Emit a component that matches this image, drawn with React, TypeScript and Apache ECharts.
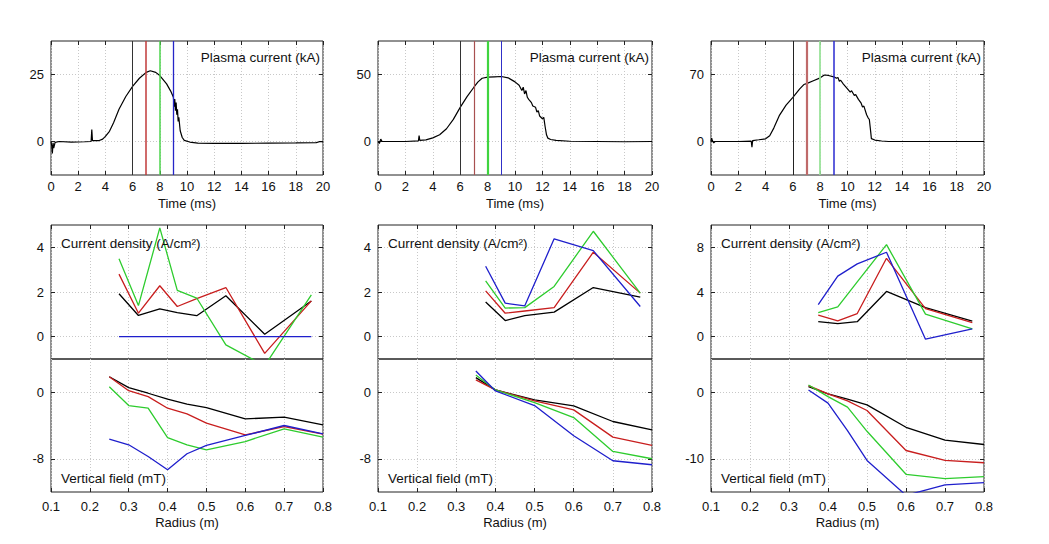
import React, { useEffect, useRef } from 'react';
import * as echarts from 'echarts';

const FONT = '"Liberation Sans", Arial, Helvetica, sans-serif';

// ---- top row: plasma current traces [time (ms), current (kA)] ----
const IP1: number[][] = [
  [0, 0], [0.05, -1.5], [0.1, -4.5], [0.15, -0.5], [0.2, -2.5], [0.3, -0.3], [0.6, 0], [1.5, -0.2], [2.5, -0.1],
  [2.95, 0], [3, 4.5], [3.05, 0.3], [3.5, 0.3], [3.8, 0.9], [4, 1.9], [4.3, 3.8], [4.6, 7], [5, 12], [5.5, 16.8],
  [6, 20.6], [6.5, 23.6], [7, 25.8], [7.3, 26.4], [7.7, 25.8], [8, 24.6], [8.5, 21.5], [8.8, 18.8], [9, 16.5],
  [9.05, 13], [9.1, 15.8], [9.15, 11.5], [9.2, 14.5], [9.25, 10], [9.3, 12], [9.35, 7.5], [9.4, 9], [9.5, 4],
  [9.65, 1.5], [9.8, 0.4], [10.2, -0.2], [10.8, -0.6], [12, -0.7], [14, -0.7], [16, -0.6], [18, -0.5],
  [19.5, -0.4], [19.8, 0], [20, -0.2],
];
const IP2: number[][] = [
  [0, 0], [0.1, -1.5], [0.2, 1.8], [0.3, 0], [1, 0], [2, 0], [2.95, 0.5], [3, 4.5], [3.05, 0.8], [3.5, 1.2],
  [4, 2.7], [4.5, 5], [5, 9.5], [5.5, 16.5], [6, 25.5], [6.5, 33.5], [7, 40.5], [7.3, 44.5], [7.6, 47.2], [8, 48],
  [8.5, 48.3], [9, 48.5], [9.5, 47.5], [10, 44.5], [10.3, 42], [10.5, 38], [10.6, 40.5], [10.7, 35.5], [10.8, 38],
  [10.9, 33], [11, 31.5], [11.2, 29], [11.3, 26.5], [11.5, 25.5], [11.6, 22], [11.7, 23], [11.8, 19], [12, 17],
  [12.1, 18], [12.2, 11], [12.3, 5], [12.4, 2.5], [12.6, 1.5], [13, 0.8], [14, 0.2], [16, 0], [18, -0.2], [20, 0],
];
const IP3: number[][] = [
  [0, 0], [0.05, 3.5], [0.1, 1], [0.2, -1.5], [0.3, 0], [1, 0], [2, 0], [2.95, 0.3], [3, -6], [3.05, 1],
  [3.5, 1.8], [4, 2.8], [4.3, 6], [4.6, 14], [5, 27], [5.5, 38], [6, 46], [6.5, 55], [6.8, 59.5], [7, 60.5],
  [7.5, 63.5], [8, 66.5], [8.3, 69.5], [8.6, 69], [9, 67.5], [9.2, 66], [9.3, 67], [9.4, 63], [9.5, 64], [9.7, 60],
  [10, 55], [10.2, 51.5], [10.3, 53], [10.5, 48], [10.6, 49], [10.8, 44], [11, 40], [11.1, 36], [11.2, 37],
  [11.4, 28], [11.5, 25], [11.6, 23], [11.7, 10], [11.75, 3], [12, 1.5], [12.5, 0.5], [13, 0], [16, 0], [20, 0],
];
const TIME_MARKERS = [6, 7, 8, 9];

// ---- current density (A/cm^2) vs radius (m) ----
const RAD_J1 = [0.275, 0.325, 0.38, 0.425, 0.475, 0.55, 0.65, 0.77];
const J1_BLACK = [1.92, 0.95, 1.24, 1.08, 0.94, 1.83, 0.11, 1.6];
const J1_RED = [2.8, 1.05, 2.28, 1.35, 1.7, 2.2, -0.75, 1.6];
const J1_GREEN = [3.49, 1.39, 4.87, 2.07, 1.73, -0.37, -1.3, 1.87];
const J1_BLUE = [0, 0, 0, 0, 0, 0, 0, 0];

const RAD_J2 = [0.375, 0.425, 0.475, 0.55, 0.65, 0.77];
const J2_BLACK = [1.55, 0.72, 0.94, 1.1, 2.2, 1.77];
const J2_RED = [2.05, 1.05, 1.15, 1.3, 3.78, 1.95];
const J2_GREEN = [2.5, 1.28, 1.3, 2.25, 4.72, 1.95];
const J2_BLUE = [3.15, 1.5, 1.38, 4.38, 3.85, 1.35];

const RAD_J3 = [0.375, 0.425, 0.475, 0.55, 0.65, 0.77];
const J3_BLACK = [1.34, 1.16, 1.34, 4.05, 2.6, 1.4];
const J3_RED = [1.93, 1.42, 2.07, 7.02, 2.52, 1.25];
const J3_GREEN = [2.16, 2.67, 4.9, 8.24, 2.02, 0.69];
const J3_BLUE = [2.87, 5.42, 6.52, 7.56, -0.23, 0.69];

// ---- vertical field (mT) vs radius (m) ----
const RAD_B1 = [0.25, 0.3, 0.35, 0.4, 0.45, 0.5, 0.6, 0.7, 0.8];
const B1_BLACK = [1.87, 0.55, -0.12, -0.84, -1.44, -1.85, -3.2, -3.0, -3.92];
const B1_RED = [1.87, 0.19, -0.53, -1.92, -2.6, -3.72, -5.12, -4.13, -5.04];
const B1_GREEN = [0.67, -1.6, -1.92, -5.45, -6.32, -6.93, -5.93, -4.4, -5.4];
const B1_BLUE = [-5.64, -6.32, -7.73, -9.33, -7.4, -6.4, -5.2, -4.0, -5.0];

const RAD_B2 = [0.35, 0.4, 0.5, 0.6, 0.7, 0.8];
const B2_BLACK = [1.76, 0.28, -0.92, -1.64, -3.52, -4.52];
const B2_RED = [1.48, 0.28, -1.04, -2.12, -5.4, -6.4];
const B2_GREEN = [2.08, 0.28, -1.24, -3.04, -7.12, -8.0];
const B2_BLUE = [2.56, 0.16, -1.6, -5.24, -8.24, -8.72];

const RAD_B3 = [0.35, 0.4, 0.45, 0.5, 0.6, 0.7, 0.8];
const B3_BLACK = [0.85, -0.25, -1.04, -1.89, -5.27, -7.21, -7.86];
const B3_RED = [1.0, -0.25, -1.29, -2.74, -8.76, -10.25, -10.6];
const B3_GREEN = [1.09, -0.65, -2.24, -5.87, -12.34, -12.99, -12.69];
const B3_BLUE = [0.35, -1.64, -5.77, -10.25, -15.5, -13.93, -13.58];

// axis ranges & tick labels
const IP_RANGES = [[-12.5, 37.5], [-25, 75], [-35, 105]];
const IP_TICKS = [[0, 25], [0, 50], [0, 70]];
const J_RANGES = [[-1, 5], [-1, 5], [-2, 10]];
const J_TICKS = [[0, 2, 4], [0, 2, 4], [0, 4, 8]];
const B_RANGES = [[-12, 4], [-12, 4], [-15, 5]];
const B_TICKS = [[-8, 0], [-8, 0], [-10, 0]];

const COLORS = ['#000000', '#c81e1e', '#2ecc2e', '#1f1fcc'];

export default function App() {
  const ref = useRef<HTMLDivElement>(null);
  useEffect(() => {
    const chart = echarts.init(ref.current!, null, { renderer: 'svg' });

    const cols = [
      { left: 51, width: 272 },
      { left: 378, width: 274 },
      { left: 711, width: 273 },
    ];
    const rows = [
      { top: 41, height: 134 },
      { top: 225, height: 134 },
      { top: 359, height: 133 },
    ];
    const grids: any[] = [];
    rows.forEach((r) => cols.forEach((c) => grids.push({
      left: c.left, width: c.width, top: r.top, height: r.height,
      show: true, borderColor: '#222', borderWidth: 1, backgroundColor: 'transparent', containLabel: false,
    })));

    const xAxes: any[] = [];
    const yAxes: any[] = [];
    const series: any[] = [];
    const tickStyle = { color: '#222', width: 1 };
    const labelStyle = { fontSize: 13, color: '#111', fontFamily: FONT };
    const split = { show: true, lineStyle: { color: '#c8c8c8', type: [1, 2], width: 1 } };

    function addX(gridIndex: number, min: number, max: number, interval: number, o: any) {
      const base = {
        type: 'value', gridIndex, min, max, interval,
        axisLine: { show: false, onZero: false },
      };
      xAxes.push({
        ...base, position: 'bottom',
        axisTick: { show: o.ticksBottom, inside: true, length: 4, lineStyle: tickStyle },
        axisLabel: { show: o.labels, margin: o.margin, ...labelStyle, formatter: o.fmt },
        splitLine: split,
        name: o.name, nameLocation: 'middle', nameGap: o.nameGap,
        nameTextStyle: { fontSize: 13, color: '#111', fontFamily: FONT },
      });
      const idx = xAxes.length - 1;
      xAxes.push({
        ...base, position: 'top',
        axisTick: { show: o.ticksTop, inside: true, length: 4, lineStyle: tickStyle },
        axisLabel: { show: false }, splitLine: { show: false },
      });
      return idx;
    }
    function addY(gridIndex: number, range: number[], ticks: number[]) {
      const base = { type: 'value', gridIndex, min: range[0], max: range[1], axisLine: { show: false, onZero: false } };
      yAxes.push({
        ...base, position: 'left',
        axisTick: { show: true, inside: true, length: 4, lineStyle: tickStyle, customValues: ticks },
        axisLabel: { show: true, margin: 7, ...labelStyle, customValues: ticks },
        splitLine: split,
      });
      const idx = yAxes.length - 1;
      yAxes.push({
        ...base, position: 'right',
        axisTick: { show: true, inside: true, length: 4, lineStyle: tickStyle, customValues: ticks },
        axisLabel: { show: false, customValues: ticks }, splitLine: { show: false },
      });
      return idx;
    }
    const pairs = (xs: number[], ys: number[]) => xs.map((x, i) => [x, ys[i]]);
    const line = (xi: number, yi: number, data: number[][], color: string, width = 1.3, extra: any = {}) => ({
      type: 'line', xAxisIndex: xi, yAxisIndex: yi, data, showSymbol: false, symbol: 'none',
      lineStyle: { color, width }, itemStyle: { color }, clip: true, silent: true, ...extra,
    });

    const ips = [IP1, IP2, IP3];
    const markerStyles = [
      [{ c: '#333', w: 1 }, { c: '#c03a3a', w: 1.5 }, { c: '#4ed44e', w: 1.5 }, { c: '#2525c8', w: 1.3 }],
      [{ c: '#333', w: 1 }, { c: '#a85050', w: 1.2 }, { c: '#3fd43f', w: 2.2 }, { c: '#3030c8', w: 1 }],
      [{ c: '#222', w: 1 }, { c: '#bf6a6a', w: 2.2 }, { c: '#9ae39a', w: 1.8 }, { c: '#2a2ad0', w: 1.5 }],
    ];
    const jSets = [
      [RAD_J1, [J1_BLACK, J1_RED, J1_GREEN, J1_BLUE]],
      [RAD_J2, [J2_BLACK, J2_RED, J2_GREEN, J2_BLUE]],
      [RAD_J3, [J3_BLACK, J3_RED, J3_GREEN, J3_BLUE]],
    ] as [number[], number[][]][];
    const bSets = [
      [RAD_B1, [B1_BLACK, B1_RED, B1_GREEN, B1_BLUE]],
      [RAD_B2, [B2_BLACK, B2_RED, B2_GREEN, B2_BLUE]],
      [RAD_B3, [B3_BLACK, B3_RED, B3_GREEN, B3_BLUE]],
    ] as [number[], number[][]][];

    for (let c = 0; c < 3; c++) {
      // top: plasma current
      const gTop = c;
      const xi = addX(gTop, 0, 20, 2, { ticksBottom: true, ticksTop: true, labels: true, margin: 5, name: 'Time (ms)', nameGap: 22, fmt: (v: number) => String(v) });
      const yi = addY(gTop, IP_RANGES[c], IP_TICKS[c]);
      series.push(line(xi, yi, ips[c], '#000', 1.2, {
        markLine: {
          silent: true, symbol: ['none', 'none'], label: { show: false }, animation: false,
          data: TIME_MARKERS.map((t, k) => ({ xAxis: t, lineStyle: { color: markerStyles[c][k].c, width: markerStyles[c][k].w, type: 'solid' } })),
        },
      }));
      // middle: current density
      const gJ = 3 + c;
      const xj = addX(gJ, 0.1, 0.8, 0.1, { ticksBottom: false, ticksTop: true, labels: false, margin: 8 });
      const yj = addY(gJ, J_RANGES[c], J_TICKS[c]);
      const [rj, js] = jSets[c];
      js.forEach((ys, k) => series.push(line(xj, yj, pairs(rj, ys), COLORS[k], 1.3)));
      // bottom: vertical field
      const gB = 6 + c;
      const xb = addX(gB, 0.1, 0.8, 0.1, { ticksBottom: true, ticksTop: false, labels: true, margin: 8, name: 'Radius (m)', nameGap: 24, fmt: (v: number) => v.toFixed(1) });
      const yb = addY(gB, B_RANGES[c], B_TICKS[c]);
      const [rb, bs] = bSets[c];
      bs.forEach((ys, k) => series.push(line(xb, yb, pairs(rb, ys), COLORS[k], 1.3)));
    }

    const txt = (text: string, x: number, y: number, align: string) => ({
      type: 'text', x, y, z: 100, silent: true,
      style: { text, fontSize: 13.5, fontFamily: FONT, fill: '#111', align, verticalAlign: 'middle' },
    });
    const graphics: any[] = [];
    cols.forEach((c) => {
      graphics.push(txt('Plasma current (kA)', c.left + c.width - 3, 57.5, 'right'));
      graphics.push(txt('Current density (A/cm²)', c.left + 10, 243, 'left'));
      graphics.push(txt('Vertical field (mT)', c.left + 10, 478, 'left'));
    });

    chart.setOption({
      animation: false,
      backgroundColor: '#ffffff',
      textStyle: { fontFamily: FONT },
      grid: grids,
      xAxis: xAxes,
      yAxis: yAxes,
      series,
      graphic: graphics,
    });
    return () => chart.dispose();
  }, []);
  return <div ref={ref} style={{ position: 'absolute', left: 0, top: 0, width: 1049, height: 544, background: '#fff' }} />;
}
